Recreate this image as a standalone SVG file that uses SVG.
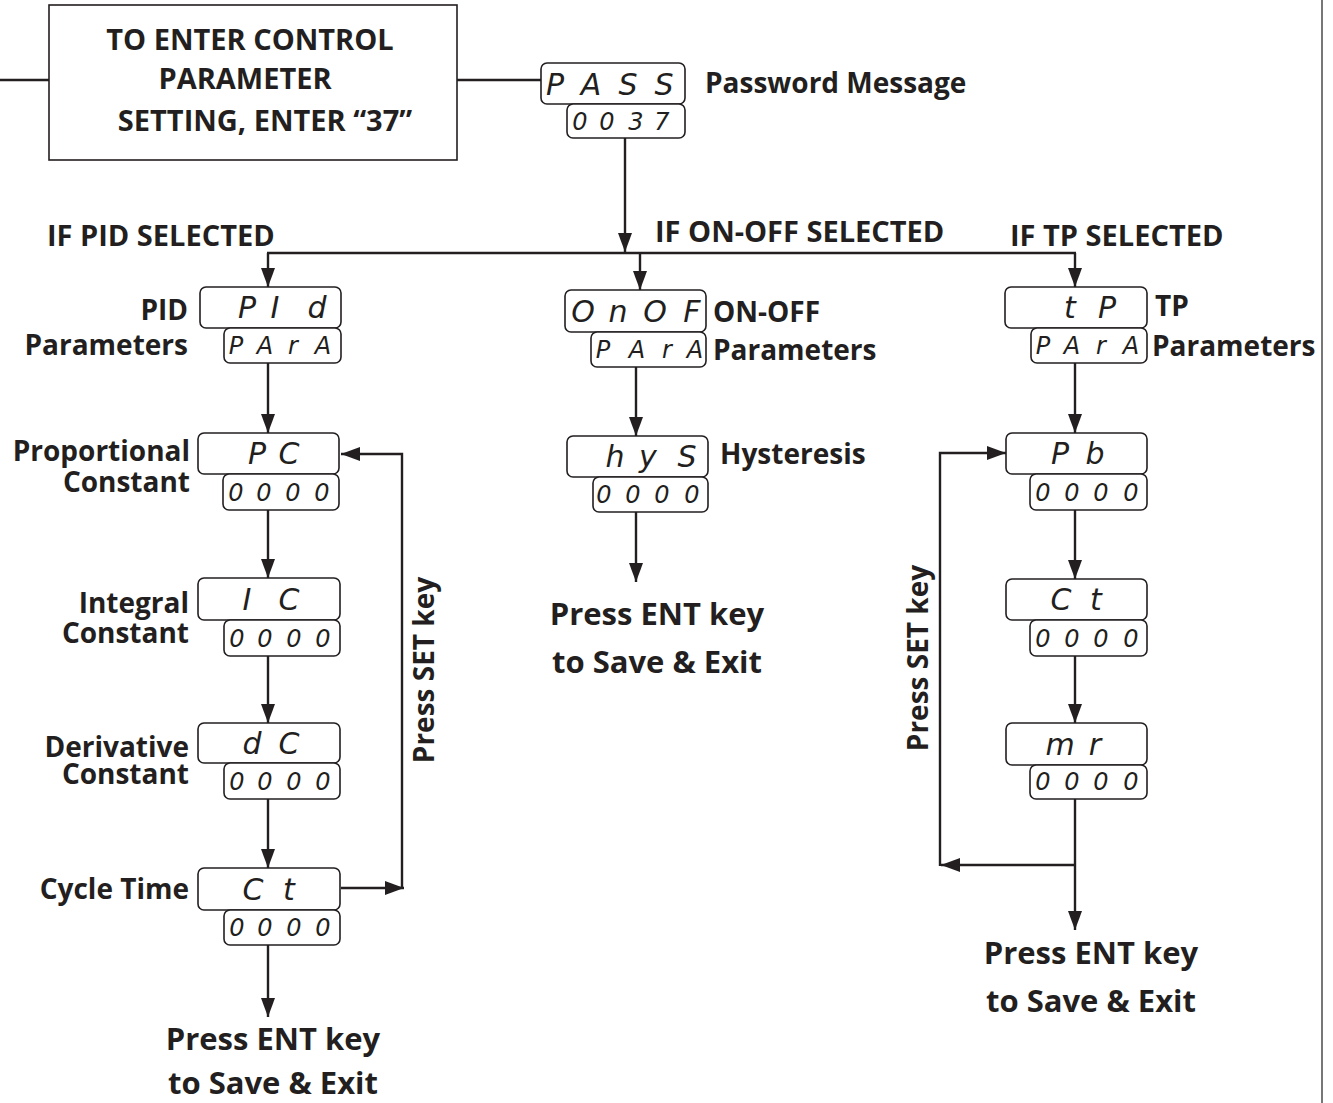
<svg xmlns="http://www.w3.org/2000/svg" width="1333" height="1103" viewBox="0 0 1333 1103">
<style>
.lbl{font-family:"Open Sans","Liberation Sans",sans-serif;font-weight:bold;font-size:28px;fill:#231f20}
.cap{font-size:29px}
.big{font-size:31px}
.r{text-anchor:end}
.m{text-anchor:middle}
.disp{fill:#fff;stroke:#231f20;stroke-width:1.6}
.seg{font-family:"DejaVu Sans","Liberation Sans",sans-serif;font-style:italic;font-weight:300;font-size:30px;fill:#231f20;text-anchor:middle}
.seg2{font-size:24px}
.ln{fill:none;stroke:#231f20;stroke-width:2.4}
</style>
<defs>
<marker id="ah" markerUnits="userSpaceOnUse" markerWidth="20" markerHeight="14" refX="19" refY="7" orient="auto">
<path d="M0,0 L19,7 L0,14 z" fill="#231f20"/>
</marker>
</defs>
<rect width="1333" height="1103" fill="#fff"/>
<line x1="1322" y1="0" x2="1322" y2="1103" stroke="#777" stroke-width="2"/>

<g id="connectors">
<line class="ln" x1="0" y1="80" x2="49" y2="80"/>
<line class="ln" x1="457" y1="80" x2="541" y2="80"/>
<line class="ln" x1="625" y1="138" x2="625" y2="252" marker-end="url(#ah)"/>
<line class="ln" x1="267" y1="253" x2="1076" y2="253"/>
<line class="ln" x1="268" y1="253" x2="268" y2="287" marker-end="url(#ah)"/>
<line class="ln" x1="640" y1="253" x2="640" y2="290" marker-end="url(#ah)"/>
<line class="ln" x1="1075" y1="253" x2="1075" y2="287" marker-end="url(#ah)"/>
<line class="ln" x1="268" y1="363" x2="268" y2="433" marker-end="url(#ah)"/>
<line class="ln" x1="268" y1="510" x2="268" y2="578" marker-end="url(#ah)"/>
<line class="ln" x1="268" y1="656" x2="268" y2="723" marker-end="url(#ah)"/>
<line class="ln" x1="268" y1="799" x2="268" y2="868" marker-end="url(#ah)"/>
<line class="ln" x1="268" y1="945" x2="268" y2="1017" marker-end="url(#ah)"/>
<line class="ln" x1="341" y1="888" x2="404" y2="888" marker-end="url(#ah)"/>
<path class="ln" d="M402,889 V454 H341" marker-end="url(#ah)"/>
<line class="ln" x1="636" y1="367" x2="636" y2="436" marker-end="url(#ah)"/>
<line class="ln" x1="636" y1="512" x2="636" y2="582" marker-end="url(#ah)"/>
<line class="ln" x1="1075" y1="363" x2="1075" y2="433" marker-end="url(#ah)"/>
<line class="ln" x1="1075" y1="510" x2="1075" y2="579" marker-end="url(#ah)"/>
<line class="ln" x1="1075" y1="656" x2="1075" y2="723" marker-end="url(#ah)"/>
<line class="ln" x1="1075" y1="799" x2="1075" y2="930" marker-end="url(#ah)"/>
<line class="ln" x1="1075" y1="865" x2="941" y2="865" marker-end="url(#ah)"/>
<path class="ln" d="M940,866 V453 H1006" marker-end="url(#ah)"/>
</g>

<g id="enter-box">
<rect x="49" y="5" width="408" height="155" fill="#fff" stroke="#231f20" stroke-width="1.6"/>
<text class="lbl cap m" x="250" y="50">TO ENTER CONTROL</text>
<text class="lbl cap m" x="245" y="89">PARAMETER</text>
<text class="lbl cap m" x="265" y="131">SETTING, ENTER “37”</text>
</g>

<g id="pass">
<rect class="disp" x="541" y="63" width="144" height="41" rx="6"/>
<text class="seg" x="555 591 628 664" y="95">PASS</text>
<rect class="disp" x="567" y="104" width="118" height="34" rx="6"/>
<text class="seg seg2" x="580 607 636 662" y="130">0037</text>
<text class="lbl" x="705" y="93">Password Message</text>
</g>

<g id="cond-labels">
<text class="lbl cap" x="47" y="246">IF PID SELECTED</text>
<text class="lbl cap" x="655" y="242">IF ON-OFF SELECTED</text>
<text class="lbl cap" x="1010" y="246">IF TP SELECTED</text>
</g>

<!-- PID column -->
<g id="pid">
<rect class="disp" x="200" y="287" width="141" height="41" rx="6"/>
<text class="seg" x="247 275 317" y="318">PId</text>
<rect class="disp" x="224" y="328" width="117" height="35" rx="6"/>
<text class="seg seg2" x="236 265 293 323" y="354">PArA</text>
<text class="lbl r" x="188" y="320">PID</text>
<text class="lbl r" x="188" y="355">Parameters</text>
</g>
<g id="pc">
<rect class="disp" x="198" y="433" width="141" height="41" rx="6"/>
<text class="seg" x="257 289" y="464">PC</text>
<rect class="disp" x="223" y="474" width="116" height="36" rx="6"/>
<text class="seg seg2" x="236 264 293 322" y="501">0000</text>
<text class="lbl r" x="190" y="461">Proportional</text>
<text class="lbl r" x="190" y="492">Constant</text>
</g>
<g id="ic">
<rect class="disp" x="198" y="578" width="142" height="42" rx="6"/>
<text class="seg" x="247 289" y="610">IC</text>
<rect class="disp" x="224" y="620" width="116" height="36" rx="6"/>
<text class="seg seg2" x="237 265 294 323" y="647">0000</text>
<text class="lbl r" x="189" y="613">Integral</text>
<text class="lbl r" x="189" y="643">Constant</text>
</g>
<g id="dc">
<rect class="disp" x="198" y="723" width="142" height="40" rx="6"/>
<text class="seg" x="252 289" y="754">dC</text>
<rect class="disp" x="224" y="763" width="116" height="36" rx="6"/>
<text class="seg seg2" x="237 265 294 323" y="790">0000</text>
<text class="lbl r" x="189" y="757">Derivative</text>
<text class="lbl r" x="189" y="784">Constant</text>
</g>
<g id="ct1">
<rect class="disp" x="198" y="868" width="142" height="42" rx="6"/>
<text class="seg" x="253 289" y="900">Ct</text>
<rect class="disp" x="224" y="910" width="116" height="35" rx="6"/>
<text class="seg seg2" x="237 265 294 323" y="936">0000</text>
<text class="lbl r" x="189" y="899">Cycle Time</text>
</g>
<g id="save1">
<text class="lbl big m" x="273" y="1050">Press ENT key</text>
<text class="lbl big m" x="273" y="1094">to Save &amp; Exit</text>
</g>
<g id="setkey1">
<text class="lbl m" transform="translate(434,670) rotate(-90)">Press SET key</text>
</g>

<!-- ON-OFF column -->
<g id="onof">
<rect class="disp" x="565" y="290" width="141" height="42" rx="6"/>
<text class="seg" x="583 618 655 692" y="322">OnOF</text>
<rect class="disp" x="591" y="332" width="115" height="35" rx="6"/>
<text class="seg seg2" x="603 637 667 695" y="358">PArA</text>
<text class="lbl" x="713" y="322">ON-OFF</text>
<text class="lbl" x="713" y="360">Parameters</text>
</g>
<g id="hys">
<rect class="disp" x="567" y="436" width="141" height="41" rx="6"/>
<text class="seg" x="615 648 687" y="467">hyS</text>
<rect class="disp" x="593" y="477" width="115" height="35" rx="6"/>
<text class="seg seg2" x="604 633 662 692" y="503">0000</text>
<text class="lbl" x="720" y="464">Hysteresis</text>
</g>
<g id="save2">
<text class="lbl big m" x="657" y="625">Press ENT key</text>
<text class="lbl big m" x="657" y="673">to Save &amp; Exit</text>
</g>

<!-- TP column -->
<g id="tp">
<rect class="disp" x="1005" y="287" width="142" height="41" rx="6"/>
<text class="seg" x="1070 1107" y="318">tP</text>
<rect class="disp" x="1031" y="328" width="116" height="35" rx="6"/>
<text class="seg seg2" x="1043 1072 1101 1131" y="354">PArA</text>
<text class="lbl" x="1155" y="316">TP</text>
<text class="lbl" x="1152" y="356">Parameters</text>
</g>
<g id="pb">
<rect class="disp" x="1006" y="433" width="141" height="41" rx="6"/>
<text class="seg" x="1060 1095" y="464">Pb</text>
<rect class="disp" x="1030" y="474" width="117" height="36" rx="6"/>
<text class="seg seg2" x="1043 1072 1101 1131" y="501">0000</text>
</g>
<g id="ct2">
<rect class="disp" x="1006" y="579" width="141" height="41" rx="6"/>
<text class="seg" x="1061 1096" y="610">Ct</text>
<rect class="disp" x="1030" y="620" width="117" height="36" rx="6"/>
<text class="seg seg2" x="1043 1072 1101 1131" y="647">0000</text>
</g>
<g id="mr">
<rect class="disp" x="1006" y="723" width="141" height="42" rx="6"/>
<text class="seg" x="1060 1095" y="755">mr</text>
<rect class="disp" x="1030" y="765" width="117" height="34" rx="6"/>
<text class="seg seg2" x="1043 1072 1101 1131" y="790">0000</text>
</g>
<g id="save3">
<text class="lbl big m" x="1091" y="964">Press ENT key</text>
<text class="lbl big m" x="1091" y="1012">to Save &amp; Exit</text>
</g>
<g id="setkey2">
<text class="lbl m" transform="translate(928,658) rotate(-90)">Press SET key</text>
</g>
</svg>
